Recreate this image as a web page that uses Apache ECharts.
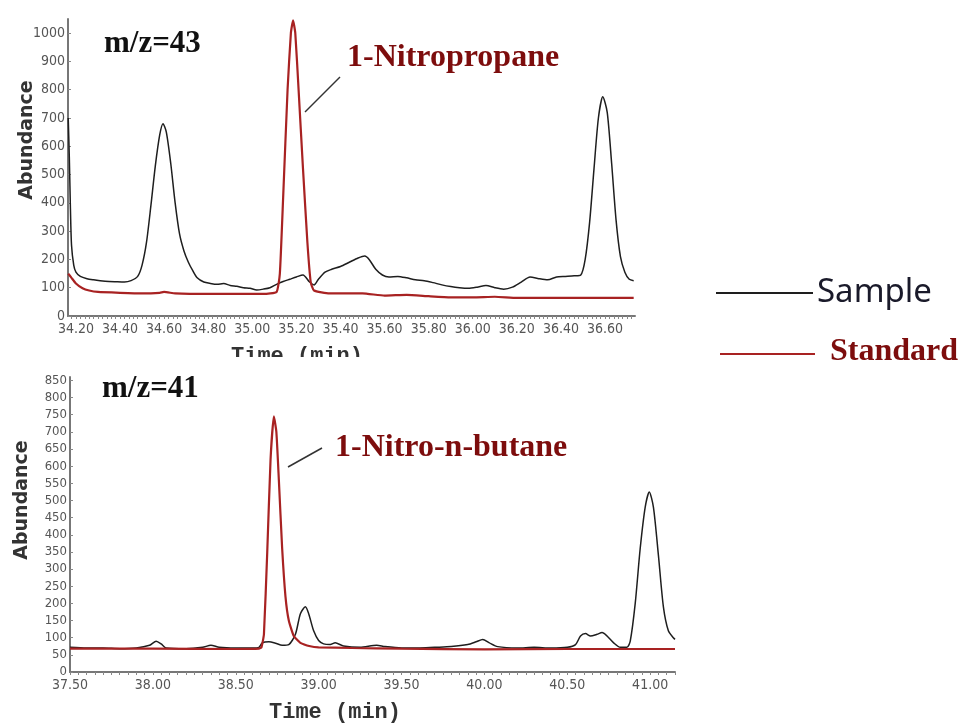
<!DOCTYPE html>
<html>
<head>
<meta charset="utf-8">
<script src="https://cdn.jsdelivr.net/npm/echarts@6/dist/echarts.min.js"></script>
<style>
  html, body { margin: 0; padding: 0; background: #fff; }
  #chart { width: 968px; height: 724px; }
</style>
</head>
<body>
<div id="chart"></div>
<script>
// m/z=43 trace, [time (min), abundance]
const sample43 = [
  [34.165, 700], [34.17, 560], [34.175, 380], [34.18, 250], [34.19, 180], [34.20, 155], [34.22, 140],
  [34.25, 132], [34.28, 128], [34.31, 125], [34.35, 122], [34.38, 121], [34.42, 120], [34.45, 125],
  [34.48, 140], [34.50, 180], [34.52, 260], [34.54, 390], [34.56, 530], [34.58, 640], [34.595, 680],
  [34.61, 650], [34.63, 540], [34.65, 400], [34.67, 290], [34.69, 230], [34.71, 190], [34.73, 160],
  [34.75, 135], [34.78, 120], [34.81, 115], [34.84, 112], [34.87, 115], [34.90, 108], [34.93, 105],
  [34.96, 100], [34.99, 98], [35.02, 92], [35.05, 95], [35.08, 100], [35.11, 112], [35.14, 122],
  [35.17, 130], [35.20, 138], [35.23, 145], [35.26, 120], [35.28, 110], [35.30, 130], [35.33, 155],
  [35.36, 165], [35.40, 175], [35.44, 190], [35.48, 205], [35.51, 212], [35.53, 200], [35.56, 165],
  [35.59, 145], [35.62, 138], [35.66, 140], [35.70, 135], [35.74, 128], [35.78, 125], [35.82, 118],
  [35.86, 110], [35.90, 104], [35.94, 100], [35.98, 98], [36.02, 102], [36.06, 108], [36.10, 100],
  [36.14, 95], [36.18, 102], [36.22, 120], [36.26, 138], [36.30, 132], [36.34, 128], [36.38, 138],
  [36.42, 140], [36.46, 142], [36.49, 145], [36.51, 200], [36.53, 330], [36.55, 520], [36.57, 700],
  [36.59, 775], [36.61, 720], [36.63, 540], [36.65, 340], [36.67, 210], [36.69, 155], [36.71, 130],
  [36.73, 125]
];
const standard43 = [
  [34.165, 150], [34.18, 135], [34.20, 115], [34.23, 98], [34.26, 90], [34.30, 85], [34.40, 82],
  [34.50, 80], [34.58, 82], [34.60, 85], [34.65, 80], [34.80, 78], [34.95, 78], [35.05, 78],
  [35.11, 85], [35.125, 150], [35.14, 420], [35.16, 800], [35.175, 1000], [35.185, 1045],
  [35.195, 1000], [35.21, 800], [35.23, 520], [35.25, 260], [35.265, 120], [35.28, 90],
  [35.35, 80], [35.50, 80], [35.60, 72], [35.70, 75], [35.80, 70], [35.90, 66], [36.00, 66],
  [36.10, 68], [36.20, 64], [36.40, 64], [36.60, 64], [36.73, 64]
];

// m/z=41 trace
const sample41 = [
  [37.50, 72], [37.60, 70], [37.70, 70], [37.80, 68], [37.90, 70], [37.98, 78], [38.02, 90],
  [38.05, 82], [38.08, 70], [38.20, 68], [38.30, 72], [38.35, 78], [38.40, 72], [38.50, 70],
  [38.60, 70], [38.64, 72], [38.66, 85], [38.70, 88], [38.74, 84], [38.78, 78], [38.82, 80],
  [38.86, 110], [38.89, 170], [38.92, 190], [38.94, 170], [38.97, 120], [39.00, 92], [39.03, 82],
  [39.07, 80], [39.10, 85], [39.15, 76], [39.25, 72], [39.35, 78], [39.40, 74], [39.50, 70],
  [39.60, 70], [39.70, 72], [39.80, 74], [39.90, 80], [39.95, 88], [39.99, 95], [40.03, 85],
  [40.08, 74], [40.20, 70], [40.30, 72], [40.40, 70], [40.50, 72], [40.55, 80], [40.58, 105],
  [40.61, 112], [40.64, 105], [40.68, 110], [40.71, 115], [40.74, 105], [40.78, 85], [40.82, 72],
  [40.86, 72], [40.88, 90], [40.91, 200], [40.94, 360], [40.97, 480], [40.995, 525], [41.02, 480],
  [41.05, 340], [41.08, 190], [41.11, 120], [41.14, 100], [41.15, 95]
];
const standard41 = [
  [37.50, 68], [38.00, 68], [38.50, 67], [38.64, 68], [38.655, 72], [38.67, 110], [38.69, 350],
  [38.71, 620], [38.73, 745], [38.745, 700], [38.76, 560], [38.78, 360], [38.80, 220], [38.82, 150],
  [38.85, 105], [38.89, 85], [38.95, 75], [39.00, 72], [39.20, 70], [39.50, 68], [40.00, 66],
  [40.50, 67], [41.00, 67], [41.15, 67]
];

// tick labels
const topTimeLabels = [34.2, 34.4, 34.6, 34.8, 35.0, 35.2, 35.4, 35.6, 35.8, 36.0, 36.2, 36.4, 36.6];
const bottomTimeLabels = [37.5, 38.0, 38.5, 39.0, 39.5, 40.0, 40.5, 41.0];

const topTicks = [];
for (let i = 0; i < 128; i++) topTicks.push(+(34.18 + i * 0.02).toFixed(2));
const bottomTicks = [];
for (let i = 0; i < 74; i++) bottomTicks.push(+(37.5 + i * 0.05).toFixed(2));

const SAMPLE = '#1e1e1e';
const STANDARD = '#a82222';
const DARKRED = '#7d0d0d';
const narrow = '"DejaVu Sans Condensed", "Liberation Sans Narrow", "Arial Narrow", sans-serif';

const xAxisBase = (min, max, grid, labels, ticks) => ({
  type: 'value', gridIndex: grid, min: min, max: max,
  axisLine: { lineStyle: { color: '#777', width: 2 } },
  axisTick: { customValues: ticks, length: 3, lineStyle: { color: '#888' } },
  axisLabel: {
    customValues: labels, color: '#555', fontFamily: narrow, fontSize: 14, margin: 6,
    formatter: v => v.toFixed(2)
  },
  splitLine: { show: false }
});
const yAxisBase = (max, interval, grid, fontSize) => ({
  type: 'value', gridIndex: grid, min: 0, max: max, interval: interval,
  axisLine: { show: true, lineStyle: { color: '#777', width: 2 } },
  axisTick: { show: true, inside: true, length: 3, lineStyle: { color: '#888' } },
  axisLabel: { color: '#555', fontFamily: narrow, fontSize: fontSize, margin: 3, showMaxLabel: false,
    formatter: v => String(v) },
  splitLine: { show: false }
});

const chart = echarts.init(document.getElementById('chart'));
chart.setOption({
  animation: false,
  backgroundColor: '#fff',
  grid: [
    { left: 68, right: 333, top: 19, bottom: 408 },
    { left: 70, right: 293, top: 377, bottom: 52 }
  ],
  xAxis: [
    xAxisBase(34.164, 36.736, 0, topTimeLabels, topTicks),
    xAxisBase(37.5, 41.15, 1, bottomTimeLabels, bottomTicks)
  ],
  yAxis: [
    yAxisBase(1050, 100, 0, 14),
    yAxisBase(860, 50, 1, 13)
  ],
  series: [
    { name: 'Sample', type: 'line', xAxisIndex: 0, yAxisIndex: 0, data: sample43, showSymbol: false, smooth: 0.25,
      lineStyle: { color: SAMPLE, width: 1.5 } },
    { name: 'Standard', type: 'line', xAxisIndex: 0, yAxisIndex: 0, data: standard43, showSymbol: false, smooth: 0.15,
      lineStyle: { color: STANDARD, width: 2.2 } },
    { name: 'Sample', type: 'line', xAxisIndex: 1, yAxisIndex: 1, data: sample41, showSymbol: false, smooth: 0.25,
      lineStyle: { color: SAMPLE, width: 1.5 } },
    { name: 'Standard', type: 'line', xAxisIndex: 1, yAxisIndex: 1, data: standard41, showSymbol: false, smooth: 0.15,
      lineStyle: { color: STANDARD, width: 2.2 } }
  ],
  graphic: [
    // panel titles
    { type: 'text', left: 104, top: 28, style: { text: 'm/z=43', font: 'bold 31px "Liberation Serif"', fill: '#111' } },
    { type: 'text', left: 102, top: 373, style: { text: 'm/z=41', font: 'bold 31px "Liberation Serif"', fill: '#111' } },
    // peak annotations
    { type: 'line', shape: { x1: 305, y1: 112, x2: 340, y2: 77 }, style: { stroke: '#333', lineWidth: 1.5 } },
    { type: 'text', left: 347, top: 42, style: { text: '1-Nitropropane', font: 'bold 32px "Liberation Serif"', fill: DARKRED } },
    { type: 'line', shape: { x1: 288, y1: 467, x2: 322, y2: 448 }, style: { stroke: '#333', lineWidth: 1.5 } },
    { type: 'text', left: 335, top: 432, style: { text: '1-Nitro-n-butane', font: 'bold 32px "Liberation Serif"', fill: DARKRED } },
    // axis names
    { type: 'text', x: 27, y: 140, rotation: Math.PI / 2,
      style: { text: 'Abundance', font: 'bold 19px "DejaVu Sans"', fill: '#333', align: 'center', verticalAlign: 'middle' } },
    { type: 'text', x: 22, y: 500, rotation: Math.PI / 2,
      style: { text: 'Abundance', font: 'bold 19px "DejaVu Sans"', fill: '#333', align: 'center', verticalAlign: 'middle' } },
    { type: 'text', x: 297, y: 356, style: { text: 'Time (min)', font: 'bold 22px "Liberation Mono"', fill: '#333', align: 'center', verticalAlign: 'middle' } },
    { type: 'rect', shape: { x: 200, y: 357, width: 200, height: 16 }, style: { fill: '#fff' }, z: 100 },
    { type: 'text', x: 335, y: 712, style: { text: 'Time (min)', font: 'bold 22px "Liberation Mono"', fill: '#333', align: 'center', verticalAlign: 'middle' } },
    // legend
    { type: 'line', shape: { x1: 716, y1: 293, x2: 813, y2: 293 }, style: { stroke: SAMPLE, lineWidth: 2 } },
    { type: 'text', x: 817, y: 293, style: { text: 'Sample', font: '33px "Noto Sans"', fill: '#1a1a2a', verticalAlign: 'middle' } },
    { type: 'line', shape: { x1: 720, y1: 354, x2: 815, y2: 354 }, style: { stroke: STANDARD, lineWidth: 2 } },
    { type: 'text', x: 830, y: 352, style: { text: 'Standard', font: 'bold 32px "Liberation Serif"', fill: DARKRED, verticalAlign: 'middle' } }
  ]
});
</script>
</body>
</html>
